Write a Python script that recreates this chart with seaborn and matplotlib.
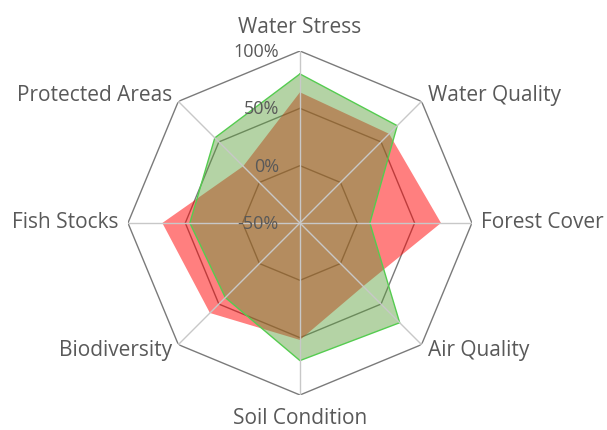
import numpy as np
import pandas as pd
import matplotlib
matplotlib.use("Agg")
import matplotlib.pyplot as plt
import matplotlib.transforms as mtransforms
import seaborn as sns

categories = ["Water Stress", "Water Quality", "Forest Cover", "Air Quality",
              "Soil Condition", "Biodiversity", "Fish Stocks", "Protected Areas"]
series_red = [64, 60, 73, 28, 52, 61, 70, 20]
series_green = [80, 70, 11, 73, 70, 42, 46, 55]
ring_values = [0, 50, 100]
tick_values = [-50, 0, 50, 100]
tick_labels = ["-50%", "0%", "50%", "100%"]
r_min, r_max = -50, 100

sns.set_style("white")
plt.rcParams["font.family"] = ["Open Sans", "DejaVu Sans"]

n = len(categories)
theta = np.arange(n) * 2 * np.pi / n
theta_closed = np.append(theta, 2 * np.pi)

df = pd.DataFrame({
    "theta": np.concatenate([theta_closed, theta_closed]),
    "value": series_red + series_red[:1] + series_green + series_green[:1],
    "series": ["red"] * (n + 1) + ["green"] * (n + 1),
})

fig = plt.figure(figsize=(6.07, 4.30), dpi=100)
ax = fig.add_axes([0.2108, 0.0814, 0.5667, 0.8], projection="polar")
ax.set_theta_offset(np.pi / 2)
ax.set_theta_direction(-1)
ax.set_ylim(r_min, r_max)
ax.grid(False)
ax.set_xticks([])
ax.set_yticks([])
ax.spines["polar"].set_visible(False)
ax.patch.set_visible(False)

# polygon rings (under fills)
for rv in ring_values:
    ax.plot(theta_closed, [rv] * (n + 1), color="#7a7a7a", lw=1.0, zorder=1)

# fills
red = df[df.series == "red"]
green = df[df.series == "green"]
ax.fill(red.theta, red.value, color="#ff0000", alpha=0.5, lw=0, zorder=2)
ax.fill(green.theta, green.value, color="#5a9e38", alpha=0.45, lw=0, zorder=3)
sns.lineplot(data=green, x="theta", y="value", sort=False, color="#55cc50",
             lw=1.0, ax=ax, zorder=4, legend=False)
ax.set_xlabel("")
ax.set_ylabel("")

# spokes (over fills)
for t in theta:
    ax.plot([t, t], [r_min, r_max], color="#c8c8c8", lw=1.0, zorder=5)

# radial tick labels
off = mtransforms.offset_copy(ax.transData, fig=fig, x=-21, y=-1, units="dots")
for v, lab in zip(tick_values, tick_labels):
    ax.text(0, v, lab, transform=off, ha="right", va="center",
            fontsize=13, color="#595959", zorder=6)

# category labels
fs = 15
for t, lab in zip(theta, categories):
    deg = np.degrees(t) % 360
    if deg == 0:
        ax.text(t, r_max + 20.5, lab, ha="center", va="center", fontsize=fs, color="#595959")
    elif deg == 180:
        ax.text(t, r_max + 20.5, lab, ha="center", va="center", fontsize=fs, color="#595959")
    elif deg == 90:
        ax.text(t, r_max + 8, lab, ha="left", va="center", fontsize=fs, color="#595959")
    elif deg == 270:
        ax.text(t, r_max + 8, lab, ha="right", va="center", fontsize=fs, color="#595959")
    elif 0 < deg < 180:
        ax.text(t, r_max + 7.5, lab, ha="left", va="center", fontsize=fs, color="#595959")
    else:
        ax.text(t, r_max + 7.5, lab, ha="right", va="center", fontsize=fs, color="#595959")

fig.savefig("out.png", dpi=100, facecolor="white")
